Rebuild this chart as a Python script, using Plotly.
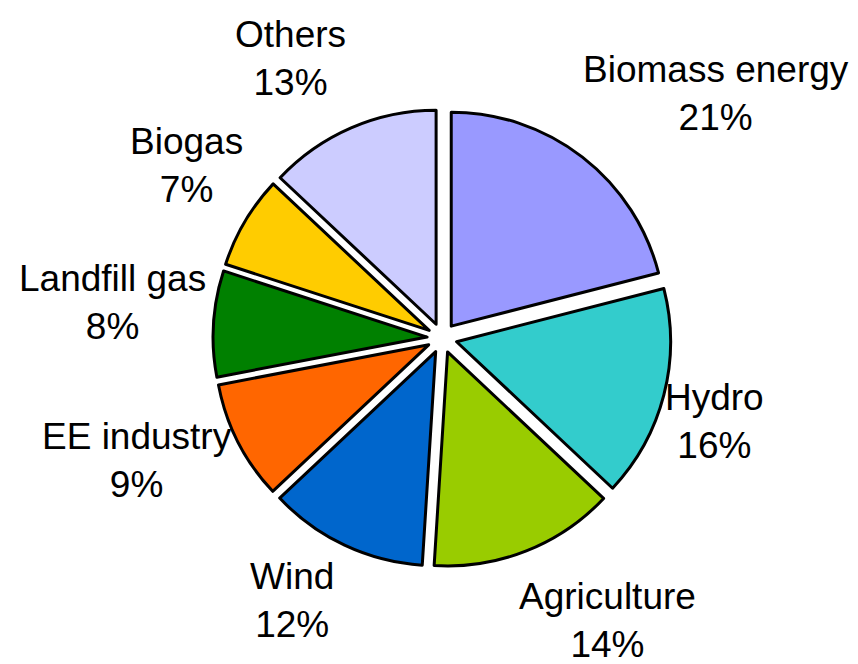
import plotly.graph_objects as go

labels = ["Biomass energy", "Hydro", "Agriculture", "Wind",
          "EE industry", "Landfill gas", "Biogas", "Others"]
values = [21, 16, 14, 12, 9, 8, 7, 13]
colors = ["#9999FF", "#33CCCC", "#99CC00", "#0066CC",
          "#FF6600", "#008000", "#FFCC00", "#CCCCFF"]

# label anchor points (paper coords)
label_xy = [(0.825, 0.871), (0.824, 0.378), (0.699, 0.077), (0.331, 0.107),
            (0.150, 0.318), (0.122, 0.556), (0.208, 0.763), (0.329, 0.924)]

total = sum(values)
fig = go.Figure(go.Pie(
    labels=labels, values=values, sort=False, direction="clockwise",
    rotation=0, pull=0.07,
    marker=dict(colors=colors, line=dict(color="black", width=3)),
    textinfo="none",
    hoverinfo="label+percent",
    domain=dict(x=[0.2390, 0.7728], y=[0.1581, 0.8479]),
    automargin=False,
))
for lab, v, (x, y) in zip(labels, values, label_xy):
    fig.add_annotation(
        x=x, y=y, xref="paper", yref="paper", showarrow=False,
        xanchor="center", yanchor="middle",
        text=f"{lab}<br>{round(100 * v / total)}%", align="center",
        font=dict(family="Liberation Sans, Arial, sans-serif", size=37, color="black"),
    )
fig.update_layout(
    width=858, height=664, showlegend=False,
    paper_bgcolor="white", plot_bgcolor="white",
    margin=dict(l=0, r=0, t=0, b=0),
)
fig.write_html("out.html")
